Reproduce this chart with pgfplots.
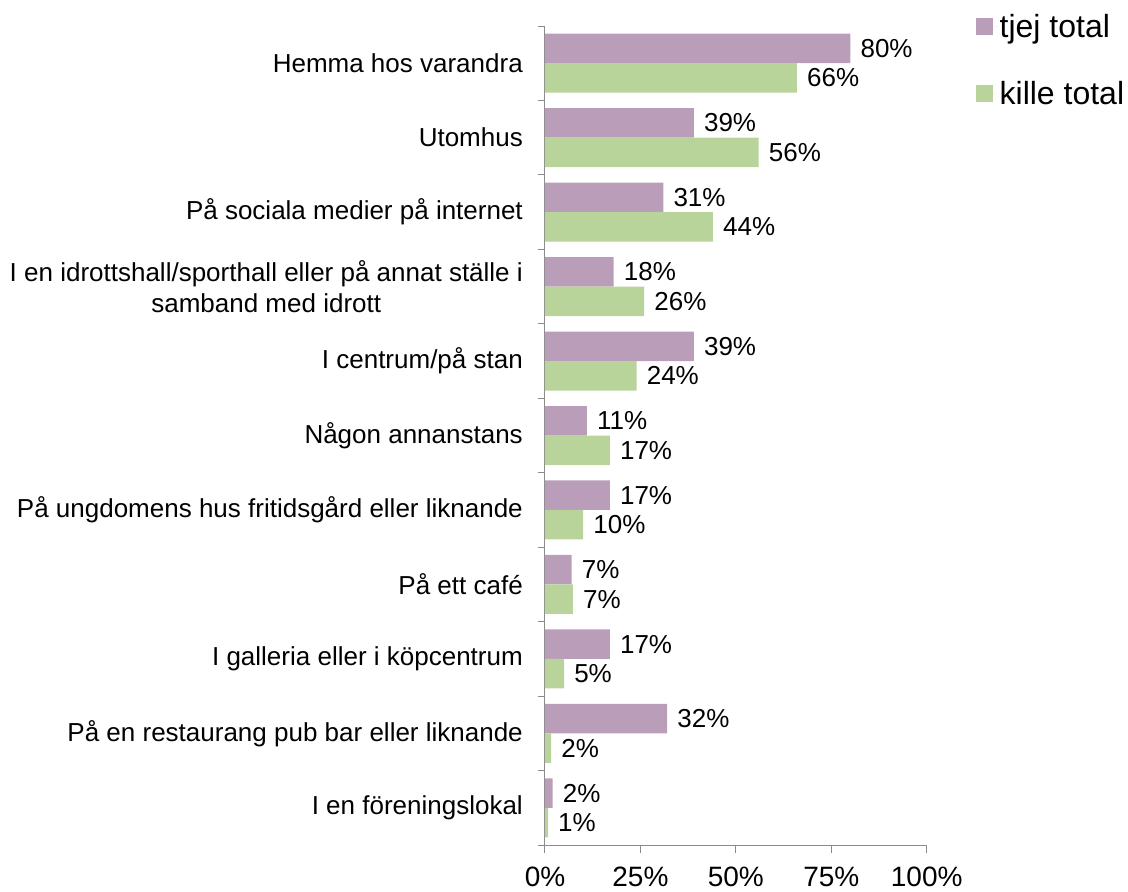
\documentclass[border=0pt]{standalone}
\usepackage{fontspec}
\setmainfont{Liberation Sans}
\usepackage{pgfplots}
\usepackage{pgfplotstable}
\pgfplotsset{compat=1.18}
\definecolor{tjej}{RGB}{186,158,185}
\definecolor{kille}{RGB}{184,212,154}
\definecolor{axisgray}{RGB}{140,140,140}

\pgfplotstableread{
x y lab
80 0 80\%
39 1 39\%
31 2 31\%
18 3 18\%
39 4 39\%
11 5 11\%
17 6 17\%
7 7 7\%
17 8 17\%
32 9 32\%
2 10 2\%
}\tjejdata
\pgfplotstableread{
x y lab
66 0 66\%
56 1 56\%
44 2 44\%
26 3 26\%
24 4 24\%
17 5 17\%
10 6 10\%
7.3 7 7\%
5 8 5\%
1.6 9 2\%
0.8 10 1\%
}\killedata

\begin{document}
\begin{tikzpicture}
\useasboundingbox (-545bp,-47bp) rectangle (583bp,845bp);
\begin{axis}[
  at={(0,0)}, anchor=south west,
  scale only axis, width=381.7bp, height=819bp,
  xbar=0pt, bar width=29.5bp,
  xmin=0, xmax=100, ymin=-0.5, ymax=10.5, y dir=reverse,
  axis x line*=bottom, axis y line*=left,
  axis line style={axisgray, line width=1bp},
  tick align=outside,
  major tick length=8bp, minor tick length=7bp,
  tick style={axisgray, line width=1bp},
  major y tick style={draw=none},
  xtick={0,25,50,75,100},
  xticklabel={\pgfmathprintnumber{\tick}\%},
  /pgf/number format/assume math mode=true,
  xticklabel style={font=\fontsize{28bp}{32bp}\selectfont, inner sep=0pt},
  xticklabel shift=14bp,
  ytick={0,...,10},
  minor ytick={-0.5,0.5,...,10.5},
  yticklabels={
    Hemma hos varandra,
    Utomhus,
    På sociala medier på internet,
    {I en idrottshall/sporthall eller på annat ställe i\\samband med idrott},
    I centrum/på stan,
    Någon annanstans,
    På ungdomens hus fritidsgård eller liknande,
    På ett café,
    I galleria eller i köpcentrum,
    På en restaurang pub bar eller liknande,
    I en föreningslokal},
  yticklabel style={font=\fontsize{26bp}{31bp}\selectfont, align=center, inner sep=0pt},
  yticklabel shift=14bp,
  nodes near coords,
  point meta=explicit symbolic,
  every node near coord/.append style={anchor=west, font=\fontsize{26bp}{30bp}\selectfont, inner sep=0pt, xshift=10bp, text=black},
  legend style={at={(axis description cs:1.12,1.019)}, anchor=north west, draw=none, fill=none,
    font=\fontsize{32bp}{36bp}\selectfont, row sep=38bp, legend cell align=left},
  legend image code/.code={\fill[#1] (0bp,-8.5bp) rectangle (17bp,8.5bp); \path (0bp,0bp) -- (22bp,0bp);},
]
\addplot[fill=tjej, draw=none, bar shift=14.75bp] table[x=x, y=y, meta=lab] {\tjejdata};
\addplot[fill=kille, draw=none, bar shift=-14.75bp] table[x=x, y=y, meta=lab] {\killedata};
\legend{tjej total, kille total}
\end{axis}
\end{tikzpicture}
\end{document}
